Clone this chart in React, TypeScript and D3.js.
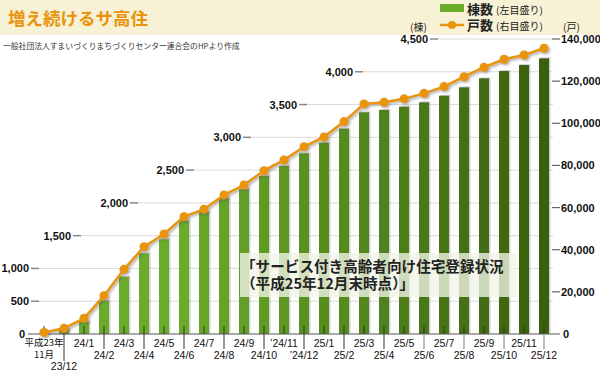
import { useEffect, useRef } from "react";
import * as d3 from "d3";

// 月末時点の登録状況（棟数：左目盛り、戸数：右目盛り）
const MONTHS = [
  "平成23年11月", "23/12",
  "24/1", "24/2", "24/3", "24/4", "24/5", "24/6", "24/7", "24/8", "24/9", "24/10", "’24/11", "’24/12",
  "25/1", "25/2", "25/3", "25/4", "25/5", "25/6", "25/7", "25/8", "25/9", "25/10", "25/11", "25/12",
];
const BUILDINGS = [
  15, 80, 188, 508, 874, 1231, 1444, 1728, 1861, 2070, 2207, 2410, 2563,
  2756, 2918, 3132, 3382, 3417, 3467, 3534, 3635, 3763, 3900, 4011, 4103, 4205,
];
const UNITS = [
  700, 2700, 7450, 18200, 30700, 41400, 47450, 55700, 59200, 66000, 70700, 77500, 82600,
  88900, 93500, 100800, 109200, 110000, 111600, 114200, 117400, 122100, 126600, 130400, 132400, 135600,
];
const LEFT_TICKS = [0, 500, 1000, 1500, 2000, 2500, 3000, 3500, 4000, 4500];
const RIGHT_TICKS = [0, 20000, 40000, 60000, 80000, 100000, 120000, 140000];

// 左目盛りラベルは階段状に配置（右端のx）
const LEFT_LABEL_END = [25, 29, 29, 71, 128, 184, 241, 297, 353, 428];

const JP = '"Noto Sans CJK JP", sans-serif';
const NUM = '"Liberation Sans", Arial, sans-serif';
const ORANGE = "#e8940c";

const W = 600;
const H = 373;
const PLOT = { left: 34, right: 554, top: 39, bottom: 334 };

export default function App() {
  const svgRef = useRef<SVGSVGElement>(null);

  useEffect(() => {
    if (!svgRef.current) return;
    const svg = d3.select(svgRef.current);
    svg.selectAll("*").remove();

    const x = d3
      .scaleBand<string>()
      .domain(MONTHS)
      .range([PLOT.left, PLOT.right])
      .paddingInner(0.5)
      .paddingOuter(0.25);
    const cx = (m: string) => (x(m) ?? 0) + x.bandwidth() / 2;

    const yLeft = d3.scaleLinear().domain([0, 4500]).range([PLOT.bottom, PLOT.top]);
    const yRight = d3.scaleLinear().domain([0, 140000]).range([PLOT.bottom, PLOT.top]);

    const defs = svg.append("defs");
    const barShadow = defs.append("filter").attr("id", "bar-shadow").attr("x", "-50%").attr("width", "200%");
    barShadow
      .append("feDropShadow")
      .attr("dx", 1.5)
      .attr("dy", -1)
      .attr("stdDeviation", 0.6)
      .attr("flood-color", "#888")
      .attr("flood-opacity", 0.4);
    const dotShadow = defs.append("filter").attr("id", "dot-shadow").attr("x", "-50%").attr("y", "-50%").attr("width", "200%").attr("height", "200%");
    dotShadow
      .append("feDropShadow")
      .attr("dx", 1.5)
      .attr("dy", 1.5)
      .attr("stdDeviation", 0.8)
      .attr("flood-color", "#555")
      .attr("flood-opacity", 0.5);

    // header band
    svg.append("rect").attr("x", 0).attr("y", 0).attr("width", W).attr("height", 35).attr("fill", "#f7f1d6");
    svg
      .append("text")
      .attr("x", 8)
      .attr("y", 25)
      .attr("font-family", JP)
      .attr("font-size", 17.5)
      .attr("font-weight", 700)
      .attr("fill", ORANGE)
      .text("増え続けるサ高住");
    svg
      .append("text")
      .attr("x", 3)
      .attr("y", 49)
      .attr("font-family", JP)
      .attr("font-size", 7.8)
      .attr("fill", "#333")
      .text("一般社団法人すまいづくりまちづくりセンター連合会のHPより作成");

    // legend
    const lg = svg.append("g");
    lg.append("rect").attr("x", 440).attr("y", 4).attr("width", 24).attr("height", 8).attr("fill", "#6aab2a");
    lg.append("line").attr("x1", 440).attr("x2", 464).attr("y1", 25).attr("y2", 25).attr("stroke", ORANGE).attr("stroke-width", 2.5);
    lg.append("circle").attr("cx", 452).attr("cy", 25).attr("r", 4).attr("fill", ORANGE);
    [
      { y: 14, main: "棟数", sub: "(左目盛り)" },
      { y: 30, main: "戸数", sub: "(右目盛り)" },
    ].forEach((d) => {
      const t = lg.append("text").attr("x", 467).attr("y", d.y).attr("font-family", JP).attr("fill", "#222");
      t.append("tspan").attr("font-size", 13).attr("font-weight", 700).text(d.main);
      t.append("tspan").attr("font-size", 10).attr("dx", 3).text(d.sub);
    });
    svg.append("text").attr("x", 410).attr("y", 31).attr("font-family", JP).attr("font-size", 10).attr("fill", "#222").text("(棟)");
    svg.append("text").attr("x", 563).attr("y", 31).attr("font-family", JP).attr("font-size", 10).attr("fill", "#222").text("(戸)");

    // left gridlines + staggered labels
    const grid = svg.append("g");
    LEFT_TICKS.forEach((v, i) => {
      const y = yLeft(v);
      const end = LEFT_LABEL_END[i];
      if (v > 0) {
        grid.append("line").attr("x1", end + 10).attr("x2", PLOT.right - 1).attr("y1", y).attr("y2", y).attr("stroke", "#dadada").attr("stroke-width", 1);
        grid.append("line").attr("x1", end + 2).attr("x2", end + 10).attr("y1", y).attr("y2", y).attr("stroke", "#888").attr("stroke-width", 1.5);
      }
      grid
        .append("text")
        .attr("x", end)
        .attr("y", y + 4)
        .attr("text-anchor", "end")
        .attr("font-family", NUM)
        .attr("font-size", 11)
        .attr("font-weight", 700)
        .attr("fill", "#111")
        .text(d3.format(",")(v));
    });

    // right axis
    const right = svg.append("g");
    RIGHT_TICKS.forEach((v) => {
      const y = yRight(v);
      if (v > 0) {
        right.append("line").attr("x1", 552).attr("x2", 560).attr("y1", y).attr("y2", y).attr("stroke", "#666").attr("stroke-width", 1.2);
      }
      right
        .append("text")
        .attr("x", v > 0 ? 561 : 563)
        .attr("y", y + 4)
        .attr("font-family", NUM)
        .attr("font-size", 11)
        .attr("font-weight", 700)
        .attr("fill", "#111")
        .text(d3.format(",")(v));
    });

    // bars
    const barColor = (i: number) => d3.interpolateRgb("#6aab2a", "#3a600e")(Math.max(0, (i - 7) / 18));
    svg
      .append("g")
      .attr("filter", "url(#bar-shadow)")
      .selectAll("rect")
      .data(BUILDINGS)
      .join("rect")
      .attr("x", (_, i) => x(MONTHS[i]) ?? 0)
      .attr("y", (d) => yLeft(d))
      .attr("width", x.bandwidth())
      .attr("height", (d) => PLOT.bottom - yLeft(d))
      .attr("fill", (_, i) => barColor(i));

    // annotation overlay
    svg.append("rect").attr("x", 240).attr("y", 253).attr("width", 277).attr("height", 44).attr("fill", "#f2f5e8").attr("opacity", 0.78);
    const note = svg.append("text").attr("font-family", JP).attr("font-size", 14.6).attr("font-weight", 700).attr("fill", "#222");
    note.append("tspan").attr("x", 241).attr("y", 272).text("「サービス付き高齢者向け住宅登録状況");
    note.append("tspan").attr("x", 241).attr("y", 289).text("（平成25年12月末時点）」");

    // baseline and x ticks
    const axis = svg.append("g");
    axis.append("line").attr("x1", 28).attr("x2", 560).attr("y1", PLOT.bottom).attr("y2", PLOT.bottom).attr("stroke", "#555").attr("stroke-width", 1);
    MONTHS.forEach((m, i) => {
      const px = cx(m);
      const late = i >= 19;
      axis.append("line").attr("x1", px).attr("x2", px).attr("y1", PLOT.bottom - 8).attr("y2", PLOT.bottom).attr("stroke", "#333").attr("stroke-width", 1);
      if (i % 2 === 1) {
        axis
          .append("line")
          .attr("x1", px)
          .attr("x2", px)
          .attr("y1", PLOT.bottom)
          .attr("y2", i === 1 ? 361 : 349)
          .attr("stroke", late ? "#bbb" : "#333")
          .attr("stroke-width", late ? 2 : 1);
      }
      const t = axis
        .append("text")
        .attr("text-anchor", "middle")
        .attr("font-family", i === 0 ? JP : NUM)
        .attr("font-size", i === 0 ? 9.5 : 10.5)
        .attr("fill", "#111");
      if (i === 0) {
        t.append("tspan").attr("x", px).attr("y", 346).text("平成23年");
        t.append("tspan").attr("x", px).attr("y", 358).text("11月");
      } else {
        t.attr("x", px)
          .attr("y", i === 1 ? 370 : i % 2 === 0 ? 347 : 359)
          .text(m);
      }
    });

    // units line
    const line = d3
      .line<number>()
      .x((_, i) => cx(MONTHS[i]))
      .y((d) => yRight(d));
    const lineG = svg.append("g").attr("filter", "url(#dot-shadow)");
    lineG.append("path").datum(UNITS).attr("d", line).attr("fill", "none").attr("stroke", ORANGE).attr("stroke-width", 2.5).attr("stroke-linejoin", "round");
    lineG
      .selectAll("circle")
      .data(UNITS)
      .join("circle")
      .attr("cx", (_, i) => cx(MONTHS[i]))
      .attr("cy", (d) => yRight(d))
      .attr("r", 4.5)
      .attr("fill", ORANGE);
  }, []);

  return (
    <svg
      ref={svgRef}
      width={W}
      height={H}
      style={{ position: "absolute", left: 0, top: 0, background: "#fff" }}
    />
  );
}
